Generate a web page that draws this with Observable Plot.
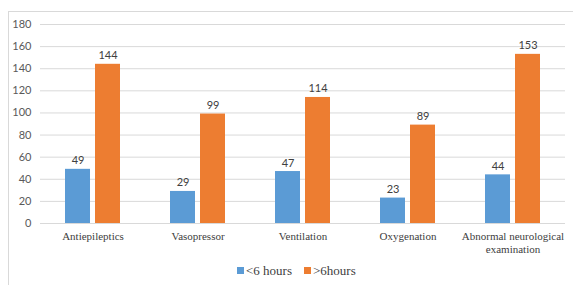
<!DOCTYPE html>
<html>
<head>
<meta charset="utf-8">
<script src="https://cdn.jsdelivr.net/npm/d3@7"></script>
<script src="https://cdn.jsdelivr.net/npm/@observablehq/plot@0.6"></script>
<style>
  html, body { margin: 0; padding: 0; background: #fff; }
  #wrap { position: relative; width: 573px; height: 285px; overflow: hidden; }
  #frame { position: absolute; left: 8px; top: 11px; width: 640px; height: 320px;
           border-top: 1px solid #d9d9d9; border-left: 1px solid #d9d9d9; box-sizing: border-box; }
  #chart { position: absolute; left: 0; top: 0; }
  #legend { position: absolute; left: 237px; top: 263px; font-family: "Liberation Serif", serif;
            font-size: 13px; color: #404040; white-space: nowrap; }
  #legend span.sw { display: inline-block; width: 7px; height: 7px; margin-right: 2px; vertical-align: 1px; }
  #legend span.item { margin-right: 12px; }
  #chart g[aria-label="fx-axis tick label"], #chart g[aria-label="fx-axis tick label"] text { font-family: "Liberation Serif", serif; }
</style>
</head>
<body>
<div id="wrap">
  <div id="frame"></div>
  <div id="chart"></div>
  <div id="legend"></div>
</div>
<script>
const categories = ["Antiepileptics", "Vasopressor", "Ventilation", "Oxygenation", "Abnormal neurological examination"];
const categoryLabels = ["Antiepileptics", "Vasopressor", "Ventilation", "Oxygenation", "Abnormal neurological\nexamination"];
const seriesNames = ["<6 hours", ">6hours"];
const seriesColors = ["#5B9BD5", "#ED7D31"];
const under6 = [49, 29, 47, 23, 44];
const over6 = [144, 99, 114, 89, 153];
const yTicks = [0, 20, 40, 60, 80, 100, 120, 140, 160, 180];

const data = [];
categories.forEach((c, i) => {
  data.push({category: c, series: seriesNames[0], value: under6[i]});
  data.push({category: c, series: seriesNames[1], value: over6[i]});
});
const labelOf = new Map(categories.map((c, i) => [c, categoryLabels[i]]));

const chart = Plot.plot({
  width: 573,
  height: 260,
  marginLeft: 40,
  marginRight: 8,
  marginTop: 24,
  marginBottom: 37,
  style: {fontFamily: "Lato, sans-serif", fontSize: "11px", color: "#595959", background: "transparent"},
  fx: {domain: categories, paddingInner: 0, paddingOuter: 0, label: null, axis: null},
  x: {domain: seriesNames, paddingInner: 0.167, paddingOuter: 0.833, axis: null},
  y: {domain: [0, 180], ticks: yTicks, label: null, axis: null},
  color: {domain: seriesNames, range: seriesColors},
  marks: [
    Plot.gridY(yTicks, {stroke: "#d9d9d9", strokeOpacity: 1}),
    Plot.axisY(yTicks, {tickSize: 0, tickPadding: 9, fontSize: 11, fill: "#595959", label: null}),
    Plot.barY(data, {fx: "category", x: "series", y: "value", fill: "series"}),
    Plot.text(data, {fx: "category", x: "series", y: "value", text: d => String(d.value),
      lineAnchor: "bottom", dy: -5, fontSize: 11, fill: "#404040"}),
    Plot.axisFx({anchor: "bottom", tickSize: 0, tickPadding: 8, label: null, tickFormat: d => labelOf.get(d),
      fontSize: 11, fill: "#404040", lineHeight: 1.15})
  ]
});
document.getElementById("chart").appendChild(chart);
// ensure serif category labels
const labelSet = new Set(categoryLabels.flatMap(s => s.split("\n")));
chart.querySelectorAll("text").forEach(t => {
  const s = t.textContent;
  if (labelSet.has(s) || [...t.querySelectorAll("tspan")].some(ts => labelSet.has(ts.textContent))) {
    t.style.fontFamily = '"Liberation Serif", serif';
  }
});

const legend = document.getElementById("legend");
seriesNames.forEach((s, i) => {
  const item = document.createElement("span");
  item.className = "item";
  const sw = document.createElement("span");
  sw.className = "sw";
  sw.style.background = seriesColors[i];
  item.appendChild(sw);
  item.appendChild(document.createTextNode(s));
  legend.appendChild(item);
});
</script>
</body>
</html>
